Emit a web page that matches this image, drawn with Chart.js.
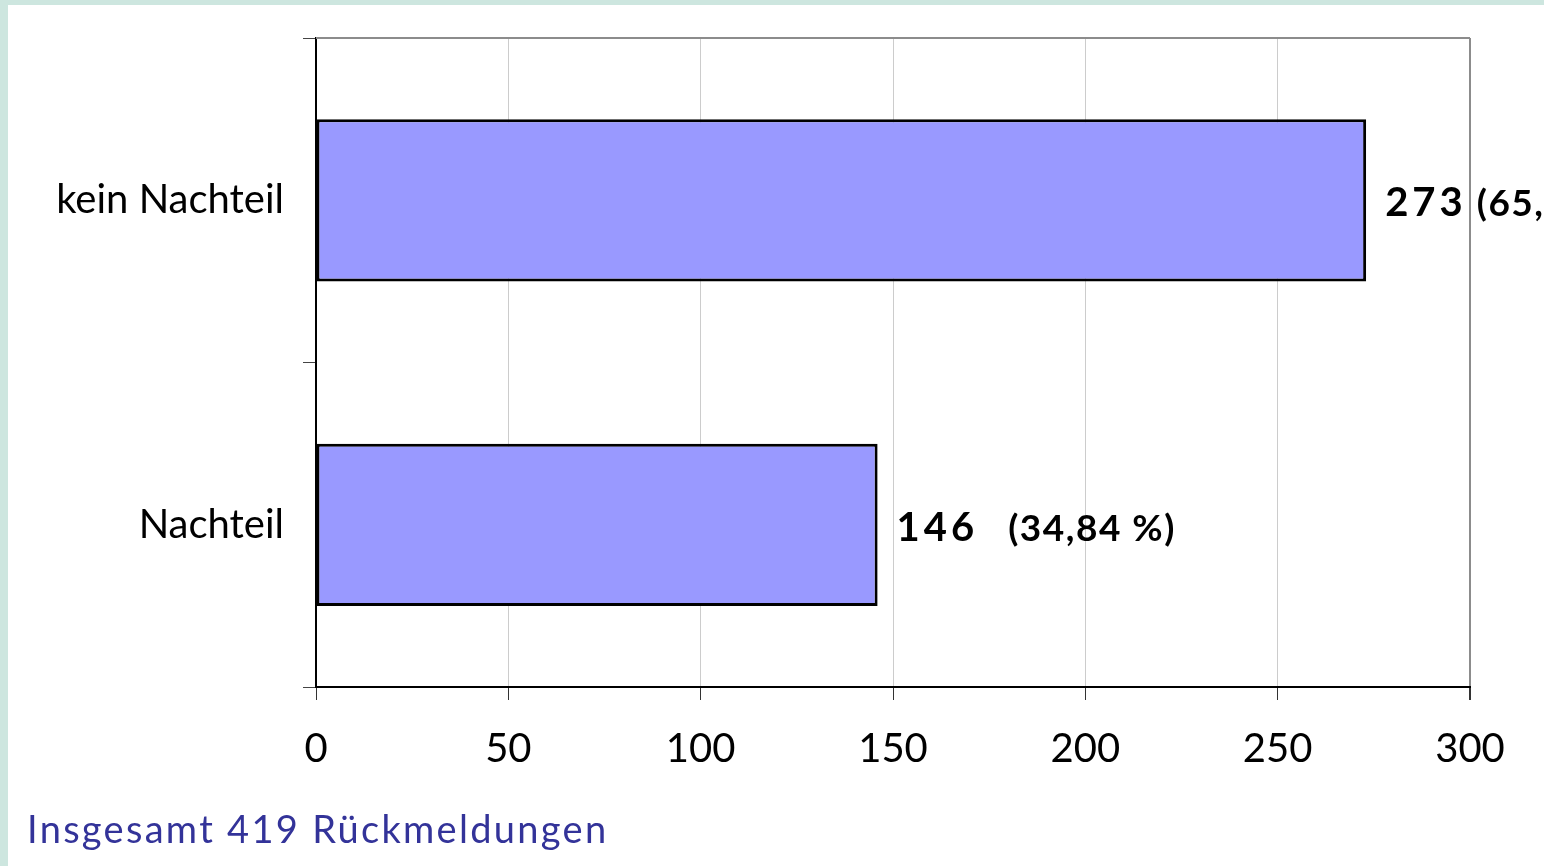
<!DOCTYPE html>
<html>
<head>
<meta charset="utf-8">
<script src="https://cdn.jsdelivr.net/npm/chart.js@4/dist/chart.umd.min.js"></script>
<style>
  html, body { margin: 0; padding: 0; background: #ffffff; }
  canvas { display: block; }
</style>
</head>
<body>
<canvas id="c" width="1544" height="866"></canvas>
<script>
const categories = ['kein Nachteil', 'Nachteil'];
const counts = [273, 146];
const percentLabels = ['(65,16 %)', '(34,84 %)'];
const axisMin = 0;
const axisMax = 300;
const axisStep = 50;
const footerText = 'Insgesamt 419 Rückmeldungen';

const FONT = 'Lato, "DejaVu Sans", sans-serif';

const framePlugin = {
  id: 'frame',
  beforeDraw(chart) {
    const ctx = chart.ctx;
    ctx.save();
    ctx.fillStyle = '#cde6df';
    ctx.fillRect(0, 0, chart.width, chart.height);
    ctx.fillStyle = '#ffffff';
    ctx.fillRect(8, 5, chart.width - 8, chart.height - 5);
    ctx.restore();
  },
  afterDraw(chart) {
    const ctx = chart.ctx;
    const a = chart.chartArea;
    ctx.save();
    ctx.strokeStyle = '#8c8c8c';
    ctx.lineWidth = 2;
    ctx.beginPath();
    ctx.moveTo(a.left, a.top);
    ctx.lineTo(a.right, a.top);
    ctx.stroke();
    ctx.fillStyle = '#333399';
    ctx.font = '38px ' + FONT;
    ctx.letterSpacing = '2.3px';
    ctx.textBaseline = 'alphabetic';
    ctx.textAlign = 'left';
    ctx.fillText(footerText, 27, 843);
    ctx.restore();
  }
};

const labelPlugin = {
  id: 'barLabels',
  afterDatasetsDraw(chart) {
    const ctx = chart.ctx;
    const meta = chart.getDatasetMeta(0);
    const gaps = [10, 30];
    ctx.save();
    ctx.fillStyle = '#000000';
    ctx.textBaseline = 'middle';
    ctx.textAlign = 'left';
    meta.data.forEach((bar, i) => {
      const x = bar.x + 19;
      const y = bar.y + 3;
      ctx.font = 'bold 40px ' + FONT;
      ctx.letterSpacing = '4px';
      const txt = String(counts[i]);
      ctx.fillText(txt, x, y);
      const w = ctx.measureText(txt).width;
      ctx.letterSpacing = '1.5px';
      ctx.font = 'bold 37px ' + FONT;
      ctx.fillText(percentLabels[i], x + w + gaps[i], y + 1);
    });
    ctx.restore();
  }
};

new Chart(document.getElementById('c'), {
  type: 'bar',
  data: {
    labels: categories,
    datasets: [{
      data: counts,
      backgroundColor: '#9999ff',
      borderColor: '#000000',
      borderWidth: 3,
      borderSkipped: false,
      barPercentage: 0.5,
      categoryPercentage: 1.0
    }]
  },
  options: {
    indexAxis: 'y',
    responsive: false,
    animation: false,
    devicePixelRatio: 1,
    layout: { padding: { left: 0, right: 74, top: 38, bottom: 0 } },
    plugins: {
      legend: { display: false },
      tooltip: { enabled: false }
    },
    scales: {
      x: {
        min: axisMin,
        max: axisMax,
        ticks: {
          stepSize: axisStep,
          color: '#000000',
          font: { family: FONT, size: 40 },
          padding: 25
        },
        grid: {
          color: c => (c.tick && c.tick.value === axisMax) ? '#8c8c8c' : '#cccccc',
          lineWidth: c => (c.tick && c.tick.value === axisMax) ? 2 : 1,
          tickLength: 13,
          tickColor: '#333333'
        },
        border: { color: '#000000', width: 2 },
        afterFit(s) { s.height = 179; }
      },
      y: {
        ticks: {
          color: '#000000',
          font: { family: FONT, size: 40 },
          padding: 19
        },
        grid: {
          drawOnChartArea: false,
          offset: true,
          tickLength: 13,
          color: '#444444'
        },
        border: { color: '#000000', width: 2 },
        afterFit(s) { s.width = 316; s.paddingTop = 0; s.paddingBottom = 0; }
      }
    }
  },
  plugins: [framePlugin, labelPlugin]
});
</script>
</body>
</html>
